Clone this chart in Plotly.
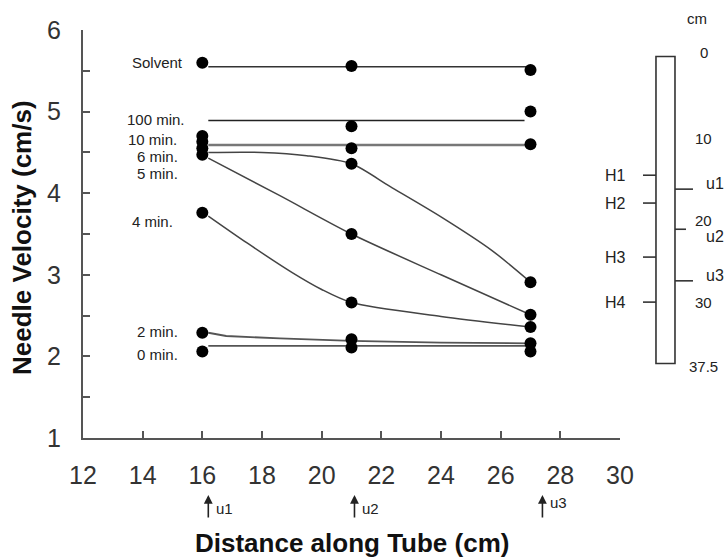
import plotly.graph_objects as go

# Measurement positions along the tube (cm)
positions = [16, 21, 27]

# Needle velocity (cm/s) at each position
series_names = ["Solvent", "100 min.", "10 min.", "6 min.", "5 min.", "4 min.", "2 min.", "0 min."]
v_solvent = [5.60, 5.56, 5.51]
v_100 = [4.70, 4.82, 5.00]
v_10 = [4.63, 4.55, 4.60]
v_6 = [4.55, 4.36, 2.91]
v_5 = [4.47, 3.50, 2.51]
v_4 = [3.76, 2.66, 2.36]
v_2 = [2.29, 2.21, 2.16]
v_0 = [2.06, 2.11, 2.06]

# Fitted curves through each series
fit_solvent_x = [16.2, 27.0]
fit_solvent_y = [5.55, 5.55]
fit_100_x = [16.2, 26.8]
fit_100_y = [4.89, 4.89]
fit_10_x = [16.2, 27.0]
fit_10_y = [4.59, 4.59]
fit_6_x = [16.2, 18.0, 19.5, 21.0, 22.3, 24.0, 25.7, 27.0]
fit_6_y = [4.50, 4.50, 4.46, 4.36, 4.08, 3.71, 3.30, 2.91]
fit_5_x = [16.2, 18.6, 21.0, 24.0, 27.0]
fit_5_y = [4.43, 3.97, 3.50, 3.00, 2.51]
fit_4_x = [16.2, 17.5, 19.0, 20.0, 21.0, 24.0, 27.0]
fit_4_y = [3.72, 3.39, 3.03, 2.82, 2.66, 2.49, 2.36]
fit_2_x = [16.2, 16.8, 18.6, 20.2, 21.0, 24.0, 27.0]
fit_2_y = [2.29, 2.25, 2.22, 2.20, 2.19, 2.17, 2.16]
fit_0_x = [16.2, 27.0]
fit_0_y = [2.13, 2.13]

# Tube schematic (cm from top)
tube_length = 37.5
tube_scale = [0, 10, 20, 30, 37.5]
tube_scale_labels = ["0", "10", "20", "30", "37.5"]
h_marks = [14.5, 17.9, 24.5, 30.0]
h_labels = ["H1", "H2", "H3", "H4"]
u_marks = [16.2, 21.1, 27.4]
u_labels = ["u1", "u2", "u3"]

FONT = "Liberation Sans, Arial, sans-serif"
TICK_FONT = "Liberation Sans Narrow, Liberation Sans, Arial, sans-serif"
INK = "#222222"
AXIS = "#555555"

values = [v_solvent, v_100, v_10, v_6, v_5, v_4, v_2, v_0]
fits = [
    (fit_solvent_x, fit_solvent_y, "linear", "#333333", 1.5),
    (fit_100_x, fit_100_y, "linear", "#222222", 1.5),
    (fit_10_x, fit_10_y, "linear", "#777777", 2.5),
    (fit_6_x, fit_6_y, "spline", "#444444", 1.5),
    (fit_5_x, fit_5_y, "spline", "#444444", 1.5),
    (fit_4_x, fit_4_y, "spline", "#444444", 1.5),
    (fit_2_x, fit_2_y, "linear", "#555555", 1.8),
    (fit_0_x, fit_0_y, "linear", "#555555", 1.8),
]

fig = go.Figure()

for fx, fy, shape, color, width in fits:
    fig.add_trace(go.Scatter(
        x=fx, y=fy, mode="lines",
        line=dict(color=color, width=width, shape=shape, smoothing=0.8),
        hoverinfo="skip", showlegend=False,
    ))

for name, vals in zip(series_names, values):
    fig.add_trace(go.Scatter(
        x=positions, y=vals, mode="markers", name=name,
        marker=dict(color="black", size=12),
        showlegend=False,
    ))

# invisible trace that carries the tube's cm axis
fig.add_trace(go.Scatter(x=[None], y=[None], yaxis="y2", hoverinfo="skip", showlegend=False))

annotations = []

# series labels to the left of the first column of points
label_x = [15.41, 15.48, 15.21, 15.24, 15.24, 15.07, 15.24, 15.24]
label_y = [5.60, 4.90, 4.66, 4.45, 4.24, 3.65, 2.30, 2.02]
for name, lx, ly in zip(series_names, label_x, label_y):
    annotations.append(dict(
        x=lx, y=ly, xref="x", yref="y", text=name, showarrow=False,
        xanchor="right", yanchor="middle",
        font=dict(family=FONT, size=15, color=INK),
    ))

# arrows marking u1..u3 under the x axis
u_text_y = [-0.1716, -0.1716, -0.157]
for u, lab, ty in zip(u_marks, u_labels, u_text_y):
    annotations.append(dict(
        x=u, y=-0.1397, xref="x", yref="paper", text="",
        showarrow=True, ax=0, ay=24, arrowhead=2, arrowsize=1.1,
        arrowwidth=1.6, arrowcolor="#222222",
    ))
    annotations.append(dict(
        x=u, y=ty, xref="x", yref="paper", text=lab, showarrow=False,
        xanchor="left", yanchor="middle", xshift=6,
        font=dict(family=FONT, size=15, color=INK),
    ))

# axis titles
annotations.append(dict(
    x=0.5, y=-0.2574, xref="paper", yref="paper",
    text="<b>Distance along Tube (cm)</b>", showarrow=False,
    xanchor="center", yanchor="middle",
    font=dict(family=FONT, size=26, color="#111111"),
))
annotations.append(dict(
    x=-0.1136, y=0.4926, xref="paper", yref="paper",
    text="<b>Needle Velocity (cm/s)</b>", showarrow=False, textangle=-90,
    xanchor="center", yanchor="middle",
    font=dict(family=FONT, size=26, color="#111111"),
))

# tube schematic on the right
TUBE_X0, TUBE_X1 = 1.067, 1.1024
H_X0 = 1.0428
U_X1 = [1.1359, 1.1229, 1.1359]
shapes = [dict(
    type="rect", xref="paper", yref="y2",
    x0=TUBE_X0, x1=TUBE_X1, y0=0, y1=tube_length,
    line=dict(color="#333333", width=1.6), fillcolor="white", layer="above",
)]
for h, lab in zip(h_marks, h_labels):
    shapes.append(dict(type="line", xref="paper", yref="y2",
                       x0=H_X0, x1=TUBE_X0, y0=h, y1=h,
                       line=dict(color="#333333", width=1.6)))
    annotations.append(dict(
        x=1.0149, y=h, xref="paper", yref="y2", text=lab, showarrow=False,
        xanchor="right", yanchor="middle",
        font=dict(family=FONT, size=16, color=INK),
    ))
u_shift = [6, -7, 5]
for u, lab, x1, ys in zip(u_marks, u_labels, U_X1, u_shift):
    shapes.append(dict(type="line", xref="paper", yref="y2",
                       x0=TUBE_X1, x1=x1, y0=u, y1=u,
                       line=dict(color="#333333", width=1.6)))
    annotations.append(dict(
        x=1.157, y=u, xref="paper", yref="y2", text=lab, showarrow=False,
        xanchor="left", yanchor="middle", yshift=ys,
        font=dict(family=FONT, size=16, color=INK),
    ))
scale_shift = [4, 0, 0, 0, -3]
for s, lab, ys in zip(tube_scale, tube_scale_labels, scale_shift):
    annotations.append(dict(
        x=1.1564, y=s, xref="paper", yref="y2", text=lab, showarrow=False,
        xanchor="center", yanchor="middle", yshift=ys,
        font=dict(family=FONT, size=15, color=INK),
    ))
annotations.append(dict(
    x=1.1434, y=1.0294, xref="paper", yref="paper", text="cm", showarrow=False,
    xanchor="center", yanchor="middle",
    font=dict(family=FONT, size=15, color=INK),
))

axis_common = dict(
    showline=True, linecolor=AXIS, linewidth=2,
    ticks="inside", ticklen=7, tickwidth=1.5, tickcolor=AXIS,
    showgrid=False, zeroline=False,
    tickfont=dict(family=TICK_FONT, size=25, color="#333333"),
)

fig.update_layout(
    width=725, height=558,
    margin=dict(l=83, r=105, t=30, b=120),
    paper_bgcolor="white", plot_bgcolor="white",
    showlegend=False,
    xaxis=dict(range=[12, 30], tick0=12, dtick=2, ticklabelstandoff=14, **axis_common),
    yaxis=dict(range=[1, 6], tick0=1, dtick=1, ticklabelstandoff=15,
               minor=dict(ticks="inside", dtick=0.5, ticklen=7, tickwidth=1.5, tickcolor=AXIS),
               **axis_common),
    yaxis2=dict(overlaying="y", range=[46.60, -3.24], visible=False, side="right"),
    shapes=shapes,
    annotations=annotations,
)

fig.write_html("out.html")
